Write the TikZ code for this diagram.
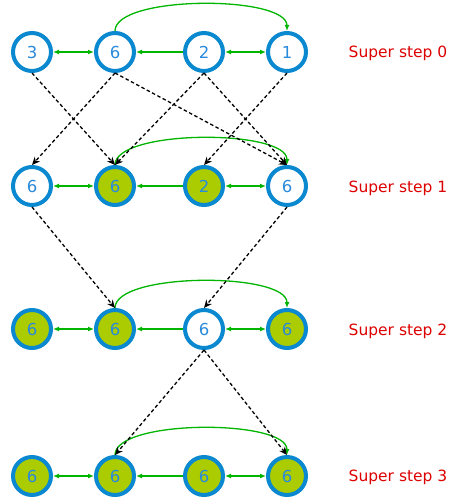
\documentclass[tikz,border=0pt]{standalone}
\usepackage{fontspec}
\setmainfont{DejaVu Sans}
\usetikzlibrary{arrows.meta}
\definecolor{vblue}{HTML}{0A88D0}
\definecolor{vtext}{HTML}{2A8ADB}
\definecolor{vgreen}{HTML}{AACC00}
\definecolor{msggreen}{HTML}{00B400}
\definecolor{stepred}{HTML}{DD0000}

\begin{document}
\begin{tikzpicture}[x=1pt, y=-1pt, >={Latex[length=6pt,width=5pt]},
    vertex/.style={circle, draw=vblue, line width=4pt, minimum size=38pt, inner sep=0pt, text=vtext, font=\fontsize{16.5}{19}\selectfont},
    idle/.style={vertex, fill=white},
    active/.style={vertex, fill=vgreen},
    edge/.style={msggreen, line width=1.3pt},
    msg/.style={line width=1.3pt, dash pattern=on 3.5pt off 2.5pt, -{Stealth[length=8pt,width=7pt]}},
    steplabel/.style={text=stepred, font=\fontsize{15.5}{18}\selectfont}]
    \useasboundingbox (0,0) rectangle (455,500);
    % vertices, row by row
    \foreach \n/\x/\y/\v/\s in {a0/32/52/3/idle, b0/115/52/6/idle, c0/204/52/2/idle, d0/287/52/1/idle,
        a1/32/186/6/idle, b1/115/186/6/active, c1/204/186/2/active, d1/287/186/6/idle,
        a2/32/329/6/active, b2/115/329/6/active, c2/204/329/6/idle, d2/287/329/6/active,
        a3/32/476/6/active, b3/115/476/6/active, c3/204/476/6/active, d3/287/476/6/active}
        \node[\s] (\n) at (\x,\y) {\v};
    % graph edges
    \foreach \r in {0,...,3} {
        \draw[edge, <->] (a\r) -- (b\r);
        \draw[edge, ->] (c\r) -- (b\r);
        \draw[edge, <->] (c\r) -- (d\r);
        \draw[edge, ->] (b\r.north) .. controls +(0,-36) and +(0,-36) .. (d\r.north);
    }
    % messages
    \foreach \s/\t in {a0/b1, b0/a1, b0/d1, c0/b1, c0/d1, d0/c1, a1/b2, d1/c2, c2/b3, c2/d3}
        \draw[msg] (\s.south) -- (\t.north);
    \foreach \r/\y in {0/53, 1/188, 2/331, 3/477}
        \node[steplabel] (s\r) at (398,\y) {Super step \r};
\end{tikzpicture}
\end{document}
